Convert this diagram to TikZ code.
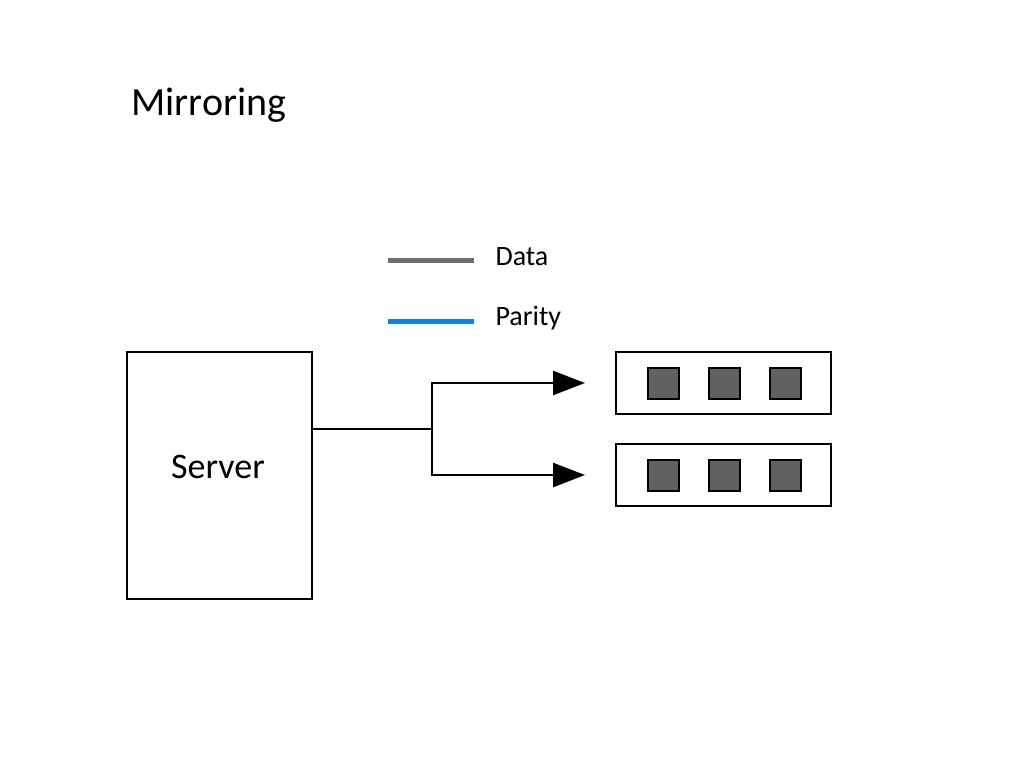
\documentclass[tikz,border=0pt]{standalone}
\usepackage{fontspec}
\setmainfont{Carlito}
\usetikzlibrary{arrows.meta}
\definecolor{datagray}{HTML}{6E6E6E}
\definecolor{parityblue}{HTML}{0A84F0}
\definecolor{slotgray}{HTML}{616161}
\tikzset{
  box/.style={draw,line width=2.5pt,inner sep=0pt},
  slot/.style={draw,fill=slotgray,line width=2pt,minimum width=31pt,minimum height=31pt,inner sep=0pt},
  link/.style={line width=2.5pt},
  legend/.style={anchor=west,font=\fontsize{28}{30}\selectfont}
}
\begin{document}
\begin{tikzpicture}[x=1pt,y=-1pt]
\useasboundingbox (0,0) rectangle (1024,768);
\node[anchor=west,font=\fontsize{40}{44}\selectfont] (title) at (128,105) {Mirroring};

% legend
\coordinate (d1) at (388,260); \coordinate (d2) at (474,260);
\coordinate (p1) at (388,321); \coordinate (p2) at (474,321);
\draw[datagray,line width=5pt] (d1) -- (d2);
\draw[parityblue,line width=5pt] (p1) -- (p2);
\node[legend] (data) at (492,257) {Data};
\node[legend] (parity) at (492,318) {Parity};

% server
\node[box,minimum width=185pt,minimum height=247pt] (server) at (219.5,475.5) {};
\node[font=\fontsize{36}{40}\selectfont] (srvtext) at (218,467) {Server};

% disks
\node[box,minimum width=215pt,minimum height=62pt] (disk1) at (723.5,383) {};
\node[box,minimum width=215pt,minimum height=62pt] (disk2) at (723.5,475) {};
\foreach \d/\y in {1/383,2/475}
  \foreach \i/\x in {1/663,2/724,3/785}
    \node[slot] (s\d\i) at (\x,\y) {};

% connectors
\coordinate (split) at (432,429);
\coordinate (a1) at (585,383);
\coordinate (a2) at (585,475);
\draw[link] (server.east |- split) -- (split);
\draw[link,-{Triangle[length=32pt,width=24pt]}] (split) |- (a1);
\draw[link,-{Triangle[length=32pt,width=24pt]}] (split) |- (a2);
\end{tikzpicture}
\end{document}
